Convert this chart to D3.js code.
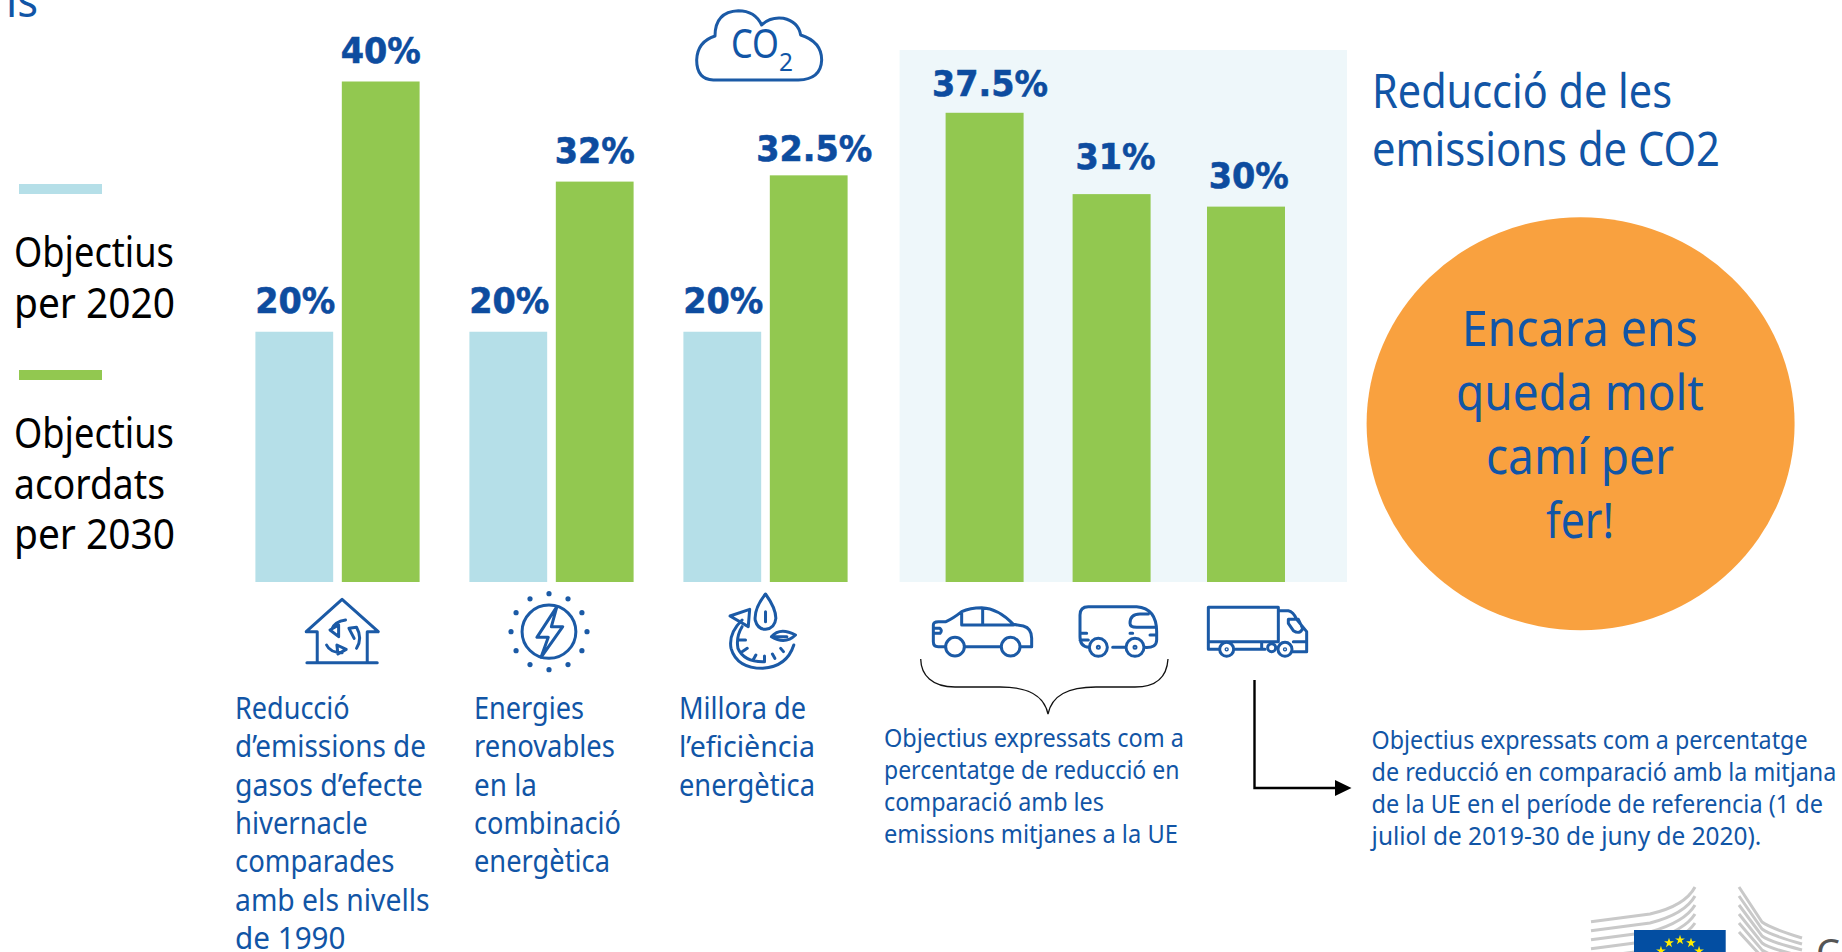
<!DOCTYPE html>
<html>
<head>
<meta charset="utf-8">
<script src="https://cdn.jsdelivr.net/npm/d3@7"></script>
<style>
    html, body { margin: 0; padding: 0; background: #fff; overflow: hidden; }
    svg { display: block; }
    text { font-family: "Noto Sans", sans-serif; }
    .value-label { font-family: "DejaVu Sans", sans-serif; font-weight: bold; font-size: 36px; fill: #0d4c9f; stroke: #0d4c9f; stroke-width: 0.6px; text-anchor: middle; }
    .icon * { fill: none; stroke: #1b5aa6; stroke-width: 3px; vector-effect: non-scaling-stroke; stroke-linecap: round; stroke-linejoin: round; }
</style>
</head>
<body>
<svg id="chart"></svg>
<script>
const groups = ["Reducció", "Energies", "Millora"];
const target2020 = [20, 20, 20];
const target2030 = [40, 32, 32.5];
const co2Categories = ["Cotxes", "Furgonetes", "Camions"];
const co2Targets = [37.5, 31, 30];
const valueLabels2020 = ["20%", "20%", "20%"];
const valueLabels2030 = ["40%", "32%", "32.5%"];
const co2Labels = ["37.5%", "31%", "30%"];

const legend2020 = ["Objectius", "per 2020"];
const legend2030 = ["Objectius", "acordats", "per 2030"];
const titleLines = ["Reducció de les", "emissions de CO2"];
const circleLines = ["Encara ens", "queda molt", "camí per", "fer!"];
const groupTexts = [
    ["Reducció", "d’emissions de", "gasos d’efecte", "hivernacle", "comparades", "amb els nivells", "de 1990"],
    ["Energies", "renovables", "en la", "combinació", "energètica"],
    ["Millora de", "l’eficiència", "energètica"]
];
const noteCars = ["Objectius expressats com a", "percentatge de reducció en", "comparació amb les", "emissions mitjanes a la UE"];
const noteTrucks = ["Objectius expressats com a percentatge", "de reducció en comparació amb la mitjana", "de la UE en el període de referencia (1 de", "juliol de 2019-30 de juny de 2020)."];

const blue = "#b5dfe8", green = "#92c850", ink = "#1155a6";

const svg = d3.select("#chart").attr("width", 1842).attr("height", 952);

const y = d3.scaleLinear().domain([0, 40]).range([582, 81.5]);

const x0 = d3.scaleBand().domain(groups).range([255.4, 847.6]).paddingInner(0.2327);
const x1 = d3.scaleBand().domain(["2020", "2030"]).range([0, x0.bandwidth()]).paddingInner(0.1);
const xCo2 = d3.scaleOrdinal().domain(co2Categories).range([945.6, 1072.6, 1207]);
const co2Width = 78;

// every line is squeezed to its width in the reference, the EC font is narrower than anything installed
const textBlock = (lines, { x, top, lineHeight, size, widths, fill = ink, anchor = "start" }) => {
    const g = svg.append("g");
    const t = g.selectAll("text").data(lines).enter().append("text")
        .attr("font-size", size)
        .attr("fill", fill)
        .attr("text-anchor", anchor)
        .text(d => d);
    t.attr("transform", function (d, i) {
        const sx = widths[i] / this.getComputedTextLength();
        return `translate(${x},${top + i * lineHeight}) scale(${sx},1)`;
    });
};

const labelTransform = (px, py) => `translate(${px},${py + 1}) scale(0.93,1)`;

// panel behind the CO2 bars
svg.append("rect")
    .attr("x", 899.6).attr("y", y(0) - 532)
    .attr("width", 447.4).attr("height", 532)
    .attr("fill", "#eef7fa");

// grouped bars
const groupG = svg.selectAll(".group").data(groups).enter().append("g")
    .attr("class", "group")
    .attr("transform", d => `translate(${x0(d)},0)`);

groupG.append("rect")
    .attr("x", x1("2020")).attr("width", x1.bandwidth())
    .attr("y", (d, i) => y(target2020[i]))
    .attr("height", (d, i) => y(0) - y(target2020[i]))
    .attr("fill", blue);

groupG.append("rect")
    .attr("x", x1("2030")).attr("width", x1.bandwidth())
    .attr("y", (d, i) => y(target2030[i]))
    .attr("height", (d, i) => y(0) - y(target2030[i]))
    .attr("fill", green);

groupG.append("text")
    .attr("class", "value-label")
    .attr("transform", (d, i) => labelTransform(x1("2020") + x1.bandwidth() / 2 + 1, y(target2020[i]) - 20))
    .text((d, i) => valueLabels2020[i]);

const nudge2030 = [[0, 20], [0, 20], [5.6, 15]];
groupG.append("text")
    .attr("class", "value-label")
    .attr("transform", (d, i) => labelTransform(x1("2030") + x1.bandwidth() / 2 + nudge2030[i][0], y(target2030[i]) - nudge2030[i][1]))
    .text((d, i) => valueLabels2030[i]);

// CO2 bars
svg.selectAll(".co2").data(co2Categories).enter().append("rect")
    .attr("class", "co2")
    .attr("x", d => xCo2(d)).attr("width", co2Width)
    .attr("y", (d, i) => y(co2Targets[i]))
    .attr("height", (d, i) => y(0) - y(co2Targets[i]))
    .attr("fill", green);

const nudgeCo2 = [[5.4, 18], [4, 26], [2.7, 20]];
svg.selectAll(".co2-label").data(co2Categories).enter().append("text")
    .attr("class", "value-label")
    .attr("transform", (d, i) => labelTransform(xCo2(d) + co2Width / 2 + nudgeCo2[i][0], y(co2Targets[i]) - nudgeCo2[i][1]))
    .text((d, i) => co2Labels[i]);

// legend
svg.append("rect").attr("x", 19).attr("y", 184).attr("width", 83).attr("height", 10).attr("fill", blue);
svg.append("rect").attr("x", 19).attr("y", 370).attr("width", 83).attr("height", 10).attr("fill", green);
textBlock(legend2020, { x: 14, top: 267, lineHeight: 50.5, size: 41, widths: [160, 161], fill: "#000" });
textBlock(legend2030, { x: 14, top: 448, lineHeight: 50.5, size: 41, widths: [160, 151, 161], fill: "#000" });

// cut off title at the top left corner
textBlock(["is"], { x: 6, top: 17, lineHeight: 0, size: 46, widths: [32] });

// right side
textBlock(titleLines, { x: 1372, top: 108, lineHeight: 57.5, size: 47, widths: [300, 348] });
svg.append("ellipse")
    .attr("cx", 1580.6).attr("cy", 423.7)
    .attr("rx", 214).attr("ry", 206.5)
    .attr("fill", "#f9a13f");
textBlock(circleLines, { x: 1580, top: 346, lineHeight: 64, size: 50, widths: [236, 248, 188, 68], anchor: "middle" });

// texts under the bars
const groupTextX = [235, 474, 679];
const groupTextWidths = [
    [114.7, 191, 187.8, 132.7, 159.6, 194.7, 110.6],
    [110, 141, 63, 147, 136],
    [127, 136, 136]
];
groupTexts.forEach((lines, i) => textBlock(lines, {
    x: groupTextX[i], top: 719, lineHeight: 38.3, size: 30, widths: groupTextWidths[i]
}));
textBlock(noteCars, { x: 884, top: 746.7, lineHeight: 32, size: 25.5, widths: [300, 295.6, 220, 294] });
textBlock(noteTrucks, { x: 1371.6, top: 749, lineHeight: 32, size: 25.5, widths: [436, 465, 451.5, 390] });

// brace and arrow
svg.append("path")
    .attr("d", "M920.7 659 C921 675 932 687 955 687 L1000 687 C1028 687 1044 695 1048 714 C1052 695 1068 687 1096 687 L1135 687 C1158 687 1167 675 1168 659")
    .attr("fill", "none").attr("stroke", "#111").attr("stroke-width", 1.3);
svg.append("path")
    .attr("d", "M1254.5 680 V788 H1337")
    .attr("fill", "none").attr("stroke", "#000").attr("stroke-width", 2.4);
svg.append("path").attr("d", "M1335 780 L1351.5 788 L1335 796 Z").attr("fill", "#000");

// icons, drawn in the coordinates of the zoomed crops
const icon = (tx, ty, sx, sy) => svg.append("g").attr("class", "icon")
    .attr("transform", `translate(${tx},${ty}) scale(${sx},${sy})`);

// cloud
const cloud = icon(670, 0, 1 / 3, 1 / 3);
cloud.append("path").attr("d", "M130 240 Q80 238 80 180 Q82 125 135 108 Q135 35 205 32 Q255 32 275 75 Q300 50 340 55 Q385 65 392 105 Q455 125 455 180 Q453 238 385 240 Z");
textBlock(["CO"], { x: 755, top: 58, lineHeight: 0, size: 40, widths: [48], anchor: "middle" });
textBlock(["2"], { x: 786, top: 71, lineHeight: 0, size: 25, widths: [14], anchor: "middle" });

// house
const house = icon(280, 580, 1 / 2.9, 1 / 3);
house.append("path").attr("d", "M78 248 H282 M108 248 V155 H76 L180 58 L285 155 H253 V248");
house.append("path").attr("d", "M150 148 Q158 125 190 120 M145 150 L170 135 L170 170 Z M200 145 L222 142 Q240 175 222 205 M200 145 L215 175 M135 195 Q145 218 180 218 M165 195 L192 208 L168 222 Z");

// energy
const energy = icon(280, 580, 1 / 2.9, 1 / 3);
energy.append("ellipse").attr("cx", 780).attr("cy", 155).attr("rx", 78).attr("ry", 80);
energy.append("path").attr("d", "M803 80 L745 172 H778 L757 232 L820 140 H787 Z");
d3.range(12).forEach(i => {
    const a = i * Math.PI / 6;
    svg.append("circle")
        .attr("cx", 549 + 38 * Math.cos(a))
        .attr("cy", 631.7 + 38 * Math.sin(a))
        .attr("r", 2.6)
        .attr("fill", "#1b5aa6");
});

// efficiency
const eff = icon(280, 580, 1 / 2.9, 1 / 3);
eff.append("path").attr("d", "M1408 42 Q1375 85 1378 120 Q1385 148 1408 148 Q1435 145 1438 115 Q1438 85 1408 42 Z M1408 95 V125");
eff.append("path").attr("d", "M1425 170 Q1450 140 1495 165 Q1465 195 1425 170 Z M1430 170 H1470");
eff.append("path").attr("d", "M1340 120 Q1300 160 1308 205 Q1325 265 1400 265 Q1470 260 1490 195");
eff.append("path").attr("d", "M1305 108 L1362 88 L1358 140 Z");
eff.append("path").attr("d", "M1340 140 Q1322 170 1328 205 Q1345 245 1400 245 M1328 180 H1350 M1340 215 L1355 205 M1372 240 L1380 225 M1405 245 V228 M1435 235 L1428 222 M1460 215 L1452 205");

// car
const car = icon(910, 590, 1 / 3, 1 / 3);
car.append("path").attr("d", "M105 170 H85 Q70 170 70 155 V105 Q70 95 85 95 H108 Q130 85 155 65 Q180 53 215 53 Q265 55 310 103 L340 108 Q365 115 365 145 V170 H332 M272 170 H165 M155 70 V105 H310 M218 55 V105 M70 115 H90 Q98 122 90 130 H70");
car.append("circle").attr("cx", 135).attr("cy", 170).attr("r", 28);
car.append("circle").attr("cx", 302).attr("cy", 170).attr("r", 28);

// van
const van = icon(910, 590, 1 / 3, 1 / 3);
van.append("path").attr("d", "M537 172 Q510 170 510 140 V75 Q510 50 535 50 H680 Q740 55 740 125 V150 Q740 175 703 172 M608 172 H647 M715 72 H690 Q660 72 660 100 Q660 112 680 112 H738 M510 130 H530 M510 150 H535 M720 135 H740 M660 130 H668");
van.append("circle").attr("cx", 565).attr("cy", 172).attr("r", 27);
van.append("circle").attr("cx", 675).attr("cy", 172).attr("r", 27);
van.append("circle").attr("cx", 565).attr("cy", 172).attr("r", 3);
van.append("circle").attr("cx", 675).attr("cy", 172).attr("r", 3);

// truck
const truck = icon(910, 590, 1 / 3, 1 / 3);
truck.append("path").attr("d", "M895 52 H1105 V155 H895 Z M895 155 V178 H927 M975 178 H1065 M1055 155 V178 M1105 62 H1135 Q1150 65 1160 88 L1190 125 V185 H1150 M1135 88 H1165 L1178 115 Q1170 135 1150 122 L1135 100 Z M1150 155 H1190");
truck.append("circle").attr("cx", 950).attr("cy", 178).attr("r", 21);
truck.append("circle").attr("cx", 1125).attr("cy", 178).attr("r", 21);
truck.append("circle").attr("cx", 1085).attr("cy", 173).attr("r", 12);
truck.append("circle").attr("cx", 950).attr("cy", 178).attr("r", 2);
truck.append("circle").attr("cx", 1125).attr("cy", 178).attr("r", 2);

// commission logo, runs off the bottom of the page
d3.range(6).forEach(i => {
    svg.append("path")
        .attr("d", `M1591 ${921.7 + i * 9} L1650 ${914 + i * 9} Q1685 ${906 + i * 8} 1695 ${887 + i * 9}`)
        .attr("fill", "none").attr("stroke", "#c9c9c9").attr("stroke-width", 3);
    svg.append("path")
        .attr("d", `M1739 ${887 + i * 9} L1762 ${922 + i * 7} Q1770 ${928 + i * 7} 1802 ${938 + i * 6}`)
        .attr("fill", "none").attr("stroke", "#c9c9c9").attr("stroke-width", 3);
});
svg.append("rect").attr("x", 1634).attr("y", 930).attr("width", 91.7).attr("height", 30).attr("fill", "#034ea2");
const star = d3.symbol().type(d3.symbolStar).size(30);
d3.range(12).forEach(i => {
    const a = i * Math.PI / 6;
    svg.append("path")
        .attr("d", star())
        .attr("transform", `translate(${1680 + 22 * Math.sin(a)},${962 - 22 * Math.cos(a)})`)
        .attr("fill", "#ffed00");
});
svg.append("text").attr("x", 1816).attr("y", 966).attr("font-size", 38).attr("fill", "#555").text("Comissió");
</script>
</body>
</html>
